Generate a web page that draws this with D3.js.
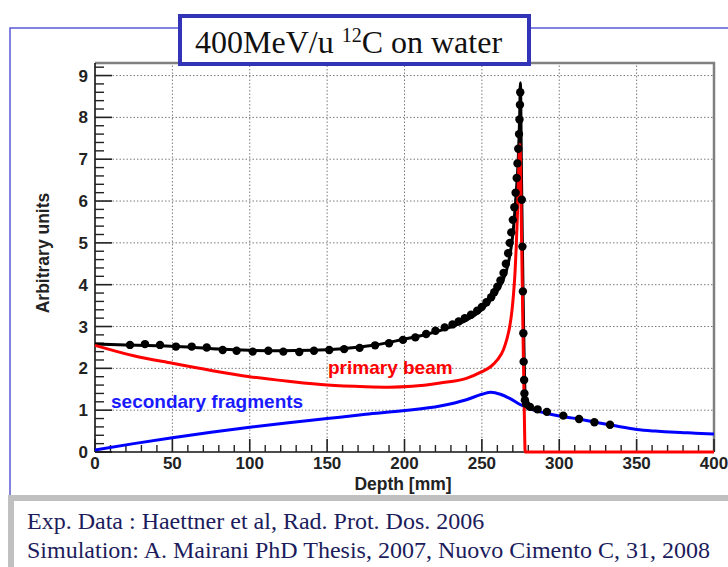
<!DOCTYPE html>
<html>
<head>
<meta charset="utf-8">
<script src="https://cdn.jsdelivr.net/npm/d3@7"></script>
<style>
  body { margin: 0; background: #fff; }
  svg { display: block; }
  .tick-lab { font-family: "Liberation Sans", Arial, sans-serif; font-weight: bold; font-size: 17px; fill: #222; }
  .ax-title { font-family: "Liberation Sans", Arial, sans-serif; font-weight: bold; font-size: 17.5px; fill: #222; }
  .serif { font-family: "Liberation Serif", "Times New Roman", serif; }
</style>
</head>
<body>
<script>
// ---- data ----
const xTicks = [0, 50, 100, 150, 200, 250, 300, 350, 400];
const yTicks = [0, 1, 2, 3, 4, 5, 6, 7, 8, 9];

// total simulated dose (black line)
const totalDepth = [0, 20, 40, 60, 80, 100, 120, 140, 160, 180, 200, 215, 230, 240, 250, 257, 263, 267, 270, 272, 273.5, 274.4, 274.9, 275.6, 276.2, 276.7, 277.2, 277.7, 278.3, 280, 285];
const totalVal   = [2.58, 2.56, 2.54, 2.51, 2.46, 2.43, 2.42, 2.43, 2.47, 2.55, 2.7, 2.82, 2.99, 3.15, 3.4, 3.7, 4.05, 4.5, 5.2, 6.1, 7.0, 8.0, 8.83, 6.6, 4.9, 3.6, 2.5, 1.6, 1.2, 1.06, 1.0];

// primary beam (red)
const primaryDepth = [0, 25, 50, 75, 100, 125, 150, 175, 190, 205, 223, 240, 250, 256, 260, 264, 266, 268, 269.5, 270.5, 271.4, 272.2, 273, 273.6, 274.2, 274.6, 275.5, 276.5, 277.3, 278, 400];
const primaryVal   = [2.55, 2.3, 2.12, 1.95, 1.8, 1.69, 1.6, 1.56, 1.55, 1.57, 1.65, 1.76, 1.92, 2.05, 2.2, 2.45, 2.68, 3.0, 3.4, 3.8, 4.28, 4.9, 5.7, 6.5, 7.2, 7.35, 5.5, 3.0, 1.2, 0, 0];

// secondary fragments (blue)
const fragDepth = [0, 25, 50, 75, 100, 125, 150, 175, 200, 223, 240, 250, 256, 262, 268, 275, 282, 290, 300, 311, 325, 337, 350, 362, 375, 388, 400];
const fragVal   = [0.05, 0.2, 0.34, 0.47, 0.59, 0.7, 0.8, 0.9, 0.99, 1.1, 1.25, 1.38, 1.43, 1.38, 1.28, 1.13, 1.02, 0.94, 0.86, 0.8, 0.7, 0.62, 0.54, 0.5, 0.47, 0.45, 0.43];

// experimental data (black dots)
const expDepth = [22.6, 32.3, 42, 52.3, 62.5, 72.2, 82.5, 91.5, 101.9, 112, 121.7, 132, 141.5, 151.4, 161, 171, 181, 190, 199, 207, 214, 220, 226, 231, 235, 239, 243, 247, 250, 253, 256, 258, 260, 262, 264, 265.5, 267, 268, 269, 270, 271, 271.8, 272.5, 273, 273.5, 274, 274.3, 274.6, 274.8, 275.8, 276.2, 276.5, 276.8, 277, 277.3, 277.5, 277.8, 278.5, 281, 286, 292, 302.6, 312.8, 322.7, 332.8];
const expVal   = [2.56, 2.58, 2.56, 2.52, 2.52, 2.5, 2.44, 2.42, 2.4, 2.42, 2.4, 2.39, 2.42, 2.44, 2.46, 2.49, 2.55, 2.6, 2.68, 2.74, 2.82, 2.9, 2.98, 3.05, 3.12, 3.2, 3.28, 3.38, 3.47, 3.58, 3.7, 3.82, 3.95, 4.1, 4.28, 4.5, 4.75, 5.0, 5.25, 5.55, 5.85, 6.2, 6.55, 6.9, 7.25, 7.6, 7.95, 8.3, 8.6, 6.03, 4.91, 3.84, 2.84, 2.16, 1.72, 1.4, 1.24, 1.15, 1.08, 1.02, 0.96, 0.87, 0.79, 0.71, 0.65];

const W = 728, H = 567;
const svg = d3.select('body').append('svg').attr('width', W).attr('height', H);

// outer blue frame
svg.append('rect').attr('x', 10).attr('y', 28).attr('width', 740).attr('height', 480)
  .attr('fill', 'none').attr('stroke', '#5a5ad8').attr('stroke-width', 1.5);

const x = d3.scaleLinear().domain([0, 400]).range([95, 714]);
const y = d3.scaleLinear().domain([0, 9.3]).range([452, 63]);

// grid
const grid = svg.append('g').attr('stroke', '#7a7a7a').attr('stroke-width', 1).attr('stroke-dasharray', '1.5,2');
grid.selectAll('.gx').data(xTicks.slice(1, -1)).join('line')
  .attr('x1', d => x(d)).attr('x2', d => x(d)).attr('y1', y(0)).attr('y2', y(9.3));
grid.selectAll('.gy').data(yTicks.slice(1)).join('line')
  .attr('x1', x(0)).attr('x2', x(400)).attr('y1', d => y(d)).attr('y2', d => y(d));

// frame top / right (grey)
svg.append('path').attr('d', `M${x(0)},${y(9.3)}H${x(400)}V${y(0)}`)
  .attr('fill', 'none').attr('stroke', '#808080').attr('stroke-width', 2.5);

// axes with inward ticks
const yAxis = svg.append('g');
yAxis.append('line').attr('x1', x(0)).attr('x2', x(0)).attr('y1', y(0)).attr('y2', y(9.3))
  .attr('stroke', '#111').attr('stroke-width', 1.6);
const yMinor = d3.range(0, 9.31, 0.2).filter(v => Math.abs(v - Math.round(v)) > 0.01);
yAxis.selectAll('.ymin').data(yMinor).join('line')
  .attr('x1', x(0)).attr('x2', x(0) + 9).attr('y1', d => y(d)).attr('y2', d => y(d))
  .attr('stroke', '#222').attr('stroke-width', 1.4);
yAxis.selectAll('.ymaj').data(yTicks).join('line')
  .attr('x1', x(0)).attr('x2', x(0) + 17).attr('y1', d => y(d)).attr('y2', d => y(d))
  .attr('stroke', '#222').attr('stroke-width', 1.6);
yAxis.selectAll('text').data(yTicks).join('text')
  .attr('class', 'tick-lab').attr('x', 88).attr('y', d => y(d) + 6)
  .attr('text-anchor', 'end').text(d => d);

const xAxis = svg.append('g');
xAxis.append('line').attr('x1', x(0)).attr('x2', x(400)).attr('y1', y(0)).attr('y2', y(0))
  .attr('stroke', '#111').attr('stroke-width', 1.6);
const xMinor = d3.range(0, 401, 10).filter(v => v % 50 !== 0);
xAxis.selectAll('.xmin').data(xMinor).join('line')
  .attr('x1', d => x(d)).attr('x2', d => x(d)).attr('y1', y(0)).attr('y2', y(0) - 7)
  .attr('stroke', '#222').attr('stroke-width', 1.4);
xAxis.selectAll('.xmaj').data(xTicks).join('line')
  .attr('x1', d => x(d)).attr('x2', d => x(d)).attr('y1', y(0)).attr('y2', y(0) - 13)
  .attr('stroke', '#222').attr('stroke-width', 1.6);
xAxis.selectAll('text').data(xTicks).join('text')
  .attr('class', 'tick-lab').attr('x', d => x(d)).attr('y', 469)
  .attr('text-anchor', 'middle').text(d => d);

svg.append('text').attr('class', 'ax-title').attr('x', 403).attr('y', 490)
  .attr('text-anchor', 'middle').text('Depth [mm]');
svg.append('text').attr('class', 'ax-title')
  .attr('transform', 'translate(49,253) rotate(-90)')
  .attr('text-anchor', 'middle').text('Arbitrary units');

// curves
const line = d3.line().x(d => x(d[0])).y(d => y(d[1])).curve(d3.curveMonotoneX);
const zip = (a, b) => a.map((v, i) => [v, b[i]]);

svg.append('path').datum(zip(fragDepth, fragVal)).attr('d', line)
  .attr('fill', 'none').attr('stroke', '#0000ff').attr('stroke-width', 3);
svg.append('path').datum(zip(totalDepth, totalVal)).attr('d', line)
  .attr('fill', 'none').attr('stroke', '#000').attr('stroke-width', 3);
svg.append('path').datum(zip(primaryDepth, primaryVal)).attr('d', line)
  .attr('fill', 'none').attr('stroke', '#ff0000').attr('stroke-width', 3);

svg.append('g').selectAll('circle').data(zip(expDepth, expVal)).join('circle')
  .attr('cx', d => x(d[0])).attr('cy', d => y(d[1])).attr('r', 4.2).attr('fill', '#000');

// labels on curves
svg.append('text').attr('x', 328).attr('y', 374)
  .style('font', 'bold 19px "Liberation Sans", Arial, sans-serif').attr('fill', '#ff0000')
  .text('primary beam');
svg.append('text').attr('x', 111).attr('y', 408)
  .style('font', 'bold 19px "Liberation Sans", Arial, sans-serif').attr('fill', '#1a1aff')
  .text('secondary fragments');

// title box
svg.append('rect').attr('x', 180).attr('y', 16).attr('width', 349).attr('height', 48)
  .attr('fill', '#fff').attr('stroke', '#3333b8').attr('stroke-width', 4);
const title = svg.append('text').attr('class', 'serif').attr('x', 195).attr('y', 53)
  .attr('font-size', 32).attr('fill', '#111');
title.append('tspan').text('400MeV/u ');
title.append('tspan').attr('font-size', 20).attr('dy', -11).text('12');
title.append('tspan').attr('dy', 11).text('C on water');

// reference box
svg.append('rect').attr('x', 11).attr('y', 498).attr('width', 740).attr('height', 100)
  .attr('fill', '#fff').attr('stroke', '#c0c0c0').attr('stroke-width', 6);
svg.append('text').attr('class', 'serif').attr('x', 27).attr('y', 529)
  .attr('font-size', 24).attr('fill', '#1c1c5c')
  .text('Exp. Data : Haettner et al, Rad. Prot. Dos. 2006');
svg.append('text').attr('class', 'serif').attr('x', 27).attr('y', 558)
  .attr('font-size', 24).attr('fill', '#1c1c5c')
  .text('Simulation: A. Mairani PhD Thesis, 2007, Nuovo Cimento C, 31, 2008');
</script>
</body>
</html>
